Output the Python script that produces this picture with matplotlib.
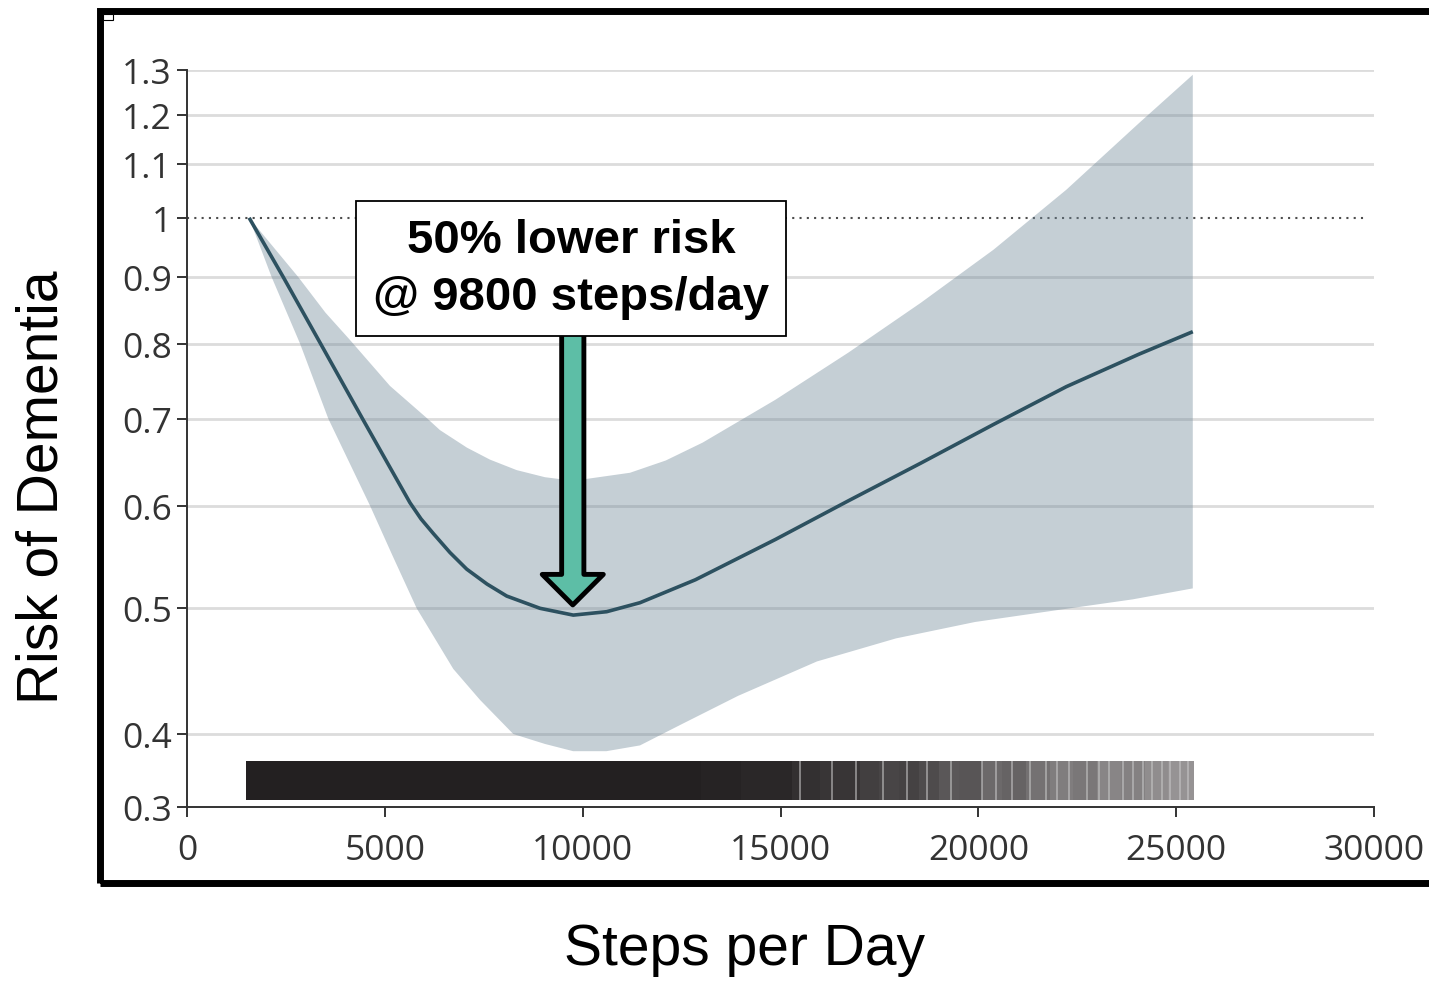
import numpy as np
import matplotlib
matplotlib.use("Agg")
import matplotlib.pyplot as plt
from matplotlib import font_manager
from matplotlib.patches import Rectangle
from matplotlib.ticker import NullLocator

# --- data ---
# fitted risk curve
curve_steps = [1570, 2434, 3374, 4436, 5156, 5636, 5914, 6225, 6647, 7069, 7582, 8080,
               8922, 9763, 10607, 11449, 12850, 14872, 16710, 18547, 20385, 22223,
               24060, 25420]
curve_risk = [1.000, 0.900, 0.800, 0.700, 0.640, 0.603, 0.586, 0.571, 0.552, 0.536, 0.522, 0.511,
              0.500, 0.494, 0.497, 0.505, 0.526, 0.565, 0.605, 0.647, 0.693, 0.741,
              0.785, 0.817]

# confidence band, upper edge
upper_steps = [1570, 2814, 3500, 4120, 5130, 6057, 6394, 7075, 7658, 8332, 9048, 9764, 11196,
               12100, 13033, 14872, 16710, 18547, 20385, 22223, 24060, 25420]
upper_risk = [1.000, 0.900, 0.845, 0.805, 0.742, 0.701, 0.686, 0.665, 0.651, 0.639, 0.631, 0.627,
              0.636, 0.650, 0.671, 0.724, 0.787, 0.860, 0.945, 1.051, 1.183, 1.289]

# confidence band, lower edge
lower_steps = [1570, 2140, 2856, 3572, 4625, 5206, 5805, 6730, 7405, 8247,
               9048, 9760, 10600, 11449, 12500, 13925, 15921, 17918, 19915, 21912,
               23900, 25420]
lower_risk = [1.000, 0.900, 0.800, 0.700, 0.600, 0.548, 0.500, 0.449, 0.425, 0.400,
              0.393, 0.388, 0.388, 0.392, 0.407, 0.428, 0.455, 0.474, 0.488, 0.498,
              0.508, 0.518]

# rug (distribution of steps/day), shaded by density
rug_edges = [1500, 13000, 14000, 15300, 16000, 17000, 17500, 18000, 18500, 19000, 19500,
             20100, 20600, 21200, 21800, 22400, 23000, 23600, 24200, 24800, 25450]
rug_gray = [0x23, 0x26, 0x2a, 0x33, 0x38, 0x42, 0x48, 0x45, 0x4e, 0x5a,
            0x58, 0x6c, 0x66, 0x74, 0x80, 0x7a, 0x88, 0x84, 0x90, 0x96]
rug_light = [15500, 16300, 16900, 17600, 18200, 18700, 19300, 20100, 20450, 20850, 21300,
             21700, 22000, 22300, 22750, 23050, 23300, 23650, 23900, 24150, 24400, 24650,
             24850, 25100, 25300]

ytick_vals = [0.3514, 0.4, 0.5, 0.6, 0.7, 0.8, 0.9, 1.0, 1.1, 1.2, 1.3]
ytick_labels = ["0.3", "0.4", "0.5", "0.6", "0.7", "0.8", "0.9", "1", "1.1", "1.2", "1.3"]
grid_vals = [0.4, 0.5, 0.6, 0.7, 0.8, 0.9, 1.1, 1.2, 1.3]
xtick_vals = [0, 5000, 10000, 15000, 20000, 25000, 30000]

optimum = 9800
note = "50% lower risk\n@ 9800 steps/day"

# --- fonts ---
names = {f.name for f in font_manager.fontManager.ttflist}
if "Liberation Sans Narrow" in names:
    label_font, label_size = "Liberation Sans Narrow", 50
else:
    label_font, label_size = "Liberation Sans", 41
tick_font = "Open Sans" if "Open Sans" in names else "DejaVu Sans"

W, H = 1429, 987
fig = plt.figure(figsize=(W / 100, H / 100), dpi=100)
ax = fig.add_axes([187 / W, 1 - 808 / H, (1374 - 187) / W, (808 - 71) / H])

ax.set_yscale("log")
ax.set_xlim(0, 30000)
ax.set_ylim(0.3514, 1.3)

for g in grid_vals:
    ax.axhline(g, color="#dcdcdc", lw=2.0, zorder=0)
ax.axhline(1.0, xmax=0.995, color="#4d4d4d", lw=1.5, ls=(0, (1, 2.5)), zorder=1)

band_x = np.concatenate([upper_steps, lower_steps[::-1]])
band_y = np.concatenate([upper_risk, lower_risk[::-1]])
ax.fill(band_x, band_y, color="#6e8798", alpha=0.4, lw=0, zorder=2)
ax.plot(curve_steps, curve_risk, color="#2d5160", lw=2.6, zorder=3,
        solid_capstyle="butt", solid_joinstyle="round")

# rug bar
rug_lo, rug_hi = 0.356, 0.381
lefts = rug_edges[:-1]
widths = np.diff(rug_edges)
colors = ["#%02x%02x%02x" % (g, max(g - 3, 0), max(g - 2, 0)) for g in rug_gray]
ax.bar(lefts, rug_hi - rug_lo, width=widths, bottom=rug_lo, align="edge",
       color=colors, lw=0, zorder=2)
ax.vlines(rug_light, rug_lo, rug_hi, color="#c8c8c8", alpha=0.6, lw=1.3, zorder=2)

# ticks / spines
for s in ["top", "right"]:
    ax.spines[s].set_visible(False)
for s in ["left", "bottom"]:
    ax.spines[s].set_color("#333333")
    ax.spines[s].set_linewidth(1.4)
ax.set_yticks(ytick_vals)
ax.set_yticklabels(ytick_labels)
ax.yaxis.set_minor_locator(NullLocator())
ax.set_xticks(xtick_vals)
ax.set_xticklabels([str(v) for v in xtick_vals])
ax.tick_params(axis="both", direction="out", length=7, width=1.4, color="#333333",
               labelsize=25.5, labelcolor="#333333")
ax.tick_params(axis="y", pad=4)
ax.tick_params(axis="x", pad=12)
for lab in ax.get_xticklabels() + ax.get_yticklabels():
    lab.set_family(tick_font)

# annotation box + arrow
ax.text(optimum - 90, 0.914, note, ha="center", va="center", fontsize=34,
        fontweight="bold", family="Liberation Sans", linespacing=1.37, zorder=6,
        bbox=dict(boxstyle="square,pad=0.36", fc="white", ec="black", lw=1.3))
ax.annotate("", xy=(optimum - 50, 0.503), xytext=(optimum - 50, 0.8155),
            arrowprops=dict(arrowstyle="simple,head_length=1.1,head_width=2.2,tail_width=0.8",
                            mutation_scale=20, fc="#5dbea6", ec="black", lw=3.5,
                            shrinkA=0, shrinkB=0), zorder=5)

# axis titles
fig.text(43 / W, 1 - 487 / H, "Risk of Dementia", rotation=90, ha="center", va="center",
         family=label_font, fontsize=label_size, color="black")
fig.text(745 / W, 1 - 950 / H, "Steps per Day", ha="center", va="center",
         family=label_font, fontsize=label_size, color="black")

# outer frame (plus the small corner mark)
fig.patches.append(Rectangle((100 / W, 1 - 884 / H), 1.2, (884 - 12) / H, fill=False,
                             ec="black", lw=5, transform=fig.transFigure, figure=fig))
fig.patches.append(Rectangle((103 / W, 1 - 21 / H), 10 / W, 6 / H, fc="white",
                             ec="black", lw=0.8, transform=fig.transFigure, figure=fig))

fig.savefig("out.png", dpi=100)
